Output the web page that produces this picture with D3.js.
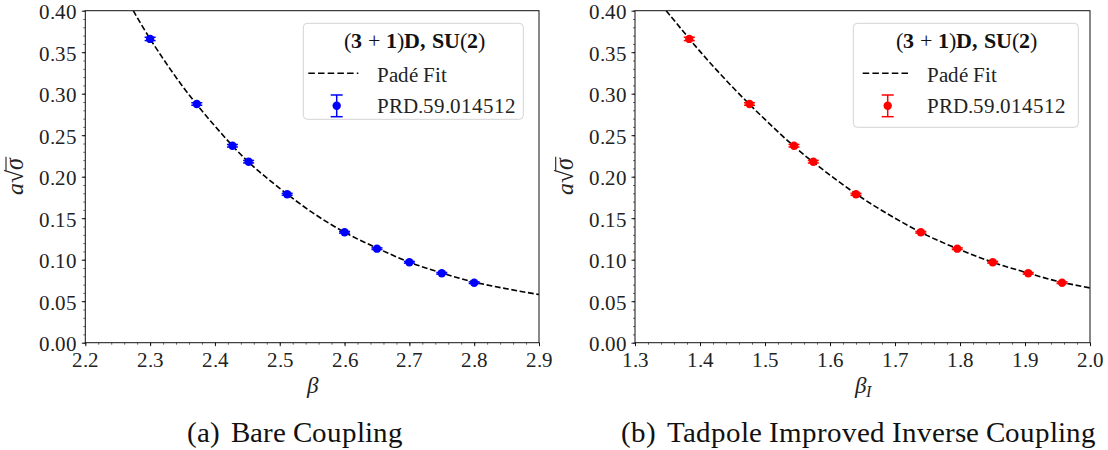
<!DOCTYPE html>
<html>
<head>
<meta charset="utf-8">
<script src="https://cdn.jsdelivr.net/npm/d3@7.9.0/dist/d3.min.js"></script>
<style>
  @font-face { font-family: "PaperSerif"; font-weight: normal; font-style: normal;
    src: local("Liberation Serif"), local("LiberationSerif"), local("LiberationSerif-Regular"); }
  @font-face { font-family: "PaperSerif"; font-weight: bold; font-style: normal;
    src: local("Liberation Serif Bold"), local("LiberationSerif-Bold"); }
  @font-face { font-family: "PaperSerif"; font-weight: normal; font-style: italic;
    src: local("Liberation Serif Italic"), local("LiberationSerif-Italic"); }
</style>
</head>
<body style="margin:0;background:#fff">
<svg id="chart" width="1108" height="450"></svg>
<script>
// values
const betaBare    = [2.3, 2.372, 2.427, 2.452, 2.5115, 2.6, 2.65, 2.7, 2.75, 2.8];
const betaTadpole = [1.3835, 1.4762, 1.5446, 1.5743, 1.640, 1.7397, 1.7958, 1.8503, 1.905, 1.957];
const sqrtSigma    = [0.366, 0.2876, 0.2373, 0.2181, 0.1788, 0.1330, 0.1133, 0.0969, 0.0836, 0.0723];
const sqrtSigmaErr = [0.002, 0.0015, 0.0015, 0.0015, 0.0012, 0.001, 0.001, 0.001, 0.001, 0.001];

// Padé fit curves
const fitBareBeta = [2.274, 2.30, 2.35, 2.40, 2.45, 2.50, 2.55, 2.60, 2.65, 2.70, 2.75, 2.80, 2.85, 2.90];
const fitBareVal  = [0.400, 0.366, 0.309, 0.261, 0.219, 0.186, 0.157, 0.133, 0.114, 0.097, 0.084, 0.073, 0.065, 0.058];
const fitTadBeta  = [1.348, 1.40, 1.45, 1.50, 1.55, 1.60, 1.65, 1.70, 1.75, 1.80, 1.85, 1.90, 1.95, 2.00];
const fitTadVal   = [0.400, 0.351, 0.308, 0.269, 0.233, 0.202, 0.174, 0.150, 0.129, 0.112, 0.097, 0.085, 0.074, 0.066];

const yTicks = [0, 0.05, 0.10, 0.15, 0.20, 0.25, 0.30, 0.35, 0.40];
const bareTicks = [2.2, 2.3, 2.4, 2.5, 2.6, 2.7, 2.8, 2.9];
const tadTicks  = [1.3, 1.4, 1.5, 1.6, 1.7, 1.8, 1.9, 2.0];

const legendTitle = ['(', '3', ' + ', '1', ')', 'D, SU', '(', '2', ')'];
const legendFit = 'Padé Fit';
const legendData = 'PRD.59.014512';

const FONT = '"PaperSerif", "DejaVu Serif", serif';
const svg = d3.select('#chart').attr('font-family', FONT).style('font-family', FONT);
const FS = 21;
const plotTop = 10.7, plotBottom = 342.7;
const y = d3.scaleLinear().domain([0, 0.4]).range([plotBottom, plotTop]);

const panels = [
  { id: 'a', left: 85.3, right: 539, domain: [2.2, 2.9], ticks: bareTicks,
    xs: betaBare, fitX: fitBareBeta, fitY: fitBareVal, color: '#0000ff',
    xlabel: 'β', sub: null, label: '(a)', caption: 'Bare Coupling', capCenter: 295,
    legend: { x: 303.3, y: 23.3, w: 220, h: 96, dash0: 5, ebar: 33.4 } },
  { id: 'b', left: 635, right: 1090, domain: [1.3, 2.0], ticks: tadTicks,
    xs: betaTadpole, fitX: fitTadBeta, fitY: fitTadVal, color: '#ff0000',
    xlabel: 'β', sub: 'I', label: '(b)', caption: 'Tadpole Improved Inverse Coupling', capCenter: 858.5,
    legend: { x: 853.3, y: 23.3, w: 225, h: 104, dash0: 9.4, ebar: 34.4 } }
];

function label(parent, size) {
  return parent.append('text').attr('font-family', FONT).style('font-family', FONT)
    .attr('font-size', size).attr('fill', '#222');
}

function styleAxis(a, width) {
  a.attr('font-family', null).attr('font-size', null);
  a.select('.domain').remove();
  a.selectAll('line').attr('stroke', '#000').attr('stroke-width', width);
  a.selectAll('text').attr('font-family', FONT).style('font-family', FONT)
    .attr('font-size', FS).attr('fill', '#222');
}

const overlines = [];

function drawPanel(p) {
  const x = d3.scaleLinear().domain(p.domain).range([p.left, p.right]);
  const g = svg.append('g');

  g.append('clipPath').attr('id', 'clip-' + p.id)
    .append('rect').attr('x', p.left).attr('y', plotTop)
    .attr('width', p.right - p.left).attr('height', plotBottom - plotTop);

  // minor ticks
  const xMinor = d3.range(0, 36).map(i => p.domain[0] + i * 0.02);
  const yMinor = d3.range(0, 41).map(i => i * 0.01);
  styleAxis(g.append('g').attr('transform', `translate(0,${plotBottom})`)
    .call(d3.axisBottom(x).tickValues(xMinor).tickSize(2).tickFormat('')), 0.6);
  styleAxis(g.append('g').attr('transform', `translate(${p.left},0)`)
    .call(d3.axisLeft(y).tickValues(yMinor).tickSize(2).tickFormat('')), 0.6);

  // major ticks
  const xa = g.append('g').attr('transform', `translate(0,${plotBottom})`)
    .call(d3.axisBottom(x).tickValues(p.ticks).tickSize(3.5).tickPadding(5.6).tickFormat(d3.format('.1f')));
  const ya = g.append('g').attr('transform', `translate(${p.left},0)`)
    .call(d3.axisLeft(y).tickValues(yTicks).tickSize(3.5).tickPadding(5).tickFormat(d3.format('.2f')));
  styleAxis(xa, 0.9);
  styleAxis(ya, 0.9);
  ya.selectAll('text').attr('dy', '0.38em');

  // fit curve
  const fit = p.fitX.map((b, i) => [b, p.fitY[i]]);
  g.append('path')
    .attr('clip-path', `url(#clip-${p.id})`)
    .attr('d', d3.line().x(d => x(d[0])).y(d => y(d[1])).curve(d3.curveCatmullRom)(fit))
    .attr('fill', 'none').attr('stroke', '#000').attr('stroke-width', 1.6)
    .attr('stroke-dasharray', '5.8,2.6');

  // data with error bars
  const pts = p.xs.map((b, i) => ({ b, v: sqrtSigma[i], e: sqrtSigmaErr[i] }));
  const pg = g.append('g').selectAll('g').data(pts).join('g');
  pg.append('line')
    .attr('x1', d => x(d.b)).attr('x2', d => x(d.b))
    .attr('y1', d => y(d.v - d.e)).attr('y2', d => y(d.v + d.e))
    .attr('stroke', p.color).attr('stroke-width', 1.5);
  [-1, 1].forEach(s => pg.append('line')
    .attr('x1', d => x(d.b) - 5.5).attr('x2', d => x(d.b) + 5.5)
    .attr('y1', d => y(d.v + s * d.e)).attr('y2', d => y(d.v + s * d.e))
    .attr('stroke', p.color).attr('stroke-width', 1.5));
  pg.append('circle')
    .attr('cx', d => x(d.b)).attr('cy', d => y(d.v)).attr('r', 4.2)
    .attr('fill', p.color);

  // spines
  g.append('rect').attr('x', p.left).attr('y', plotTop)
    .attr('width', p.right - p.left).attr('height', plotBottom - plotTop)
    .attr('fill', 'none').attr('stroke', '#111').attr('stroke-width', 1);

  // x label
  const xl = label(g, 23).attr('x', (p.left + p.right) / 2).attr('y', 393).attr('text-anchor', 'middle');
  xl.append('tspan').attr('font-style', 'italic').text(p.xlabel);
  if (p.sub) xl.append('tspan').attr('font-style', 'italic').attr('font-size', 16)
    .attr('dy', 4).text(p.sub);

  // y label a√σ, the bar over σ is placed once the glyphs are measured
  const tr = `translate(${p.left - 62},176) rotate(-90)`;
  const yl = label(g, 24).attr('transform', tr).attr('text-anchor', 'middle');
  yl.append('tspan').attr('font-style', 'italic').text('a');
  yl.append('tspan').text('√');
  yl.append('tspan').attr('font-style', 'italic').text('σ');
  const bar = g.append('line').attr('transform', tr)
    .attr('y1', -17.3).attr('y2', -17.3)
    .attr('stroke', '#222').attr('stroke-width', 1.1);
  overlines.push({ text: yl, bar });

  // legend
  const L = p.legend;
  const lg = g.append('g').attr('transform', `translate(${L.x},${L.y})`);
  lg.append('rect').attr('width', L.w).attr('height', L.h).attr('rx', 4)
    .attr('fill', '#fff').attr('fill-opacity', 0.8)
    .attr('stroke', '#d4d4d4').attr('stroke-width', 1);
  const tt = label(lg, 22).attr('x', L.w / 2 + 1).attr('y', 25)
    .attr('text-anchor', 'middle').attr('fill', '#111');
  legendTitle.forEach(s => tt.append('tspan')
    .attr('font-weight', /[()+]/.test(s) ? 'normal' : 'bold').text(s));
  lg.append('line').attr('x1', L.dash0).attr('x2', 55).attr('y1', 50).attr('y2', 50)
    .attr('stroke', '#000').attr('stroke-width', 1.6).attr('stroke-dasharray', '6.5,3.2');
  label(lg, FS).attr('x', 74).attr('y', 58.4).text(legendFit);
  const eb = lg.append('g').attr('transform', `translate(${L.ebar},82.4)`);
  eb.append('line').attr('y1', -10.7).attr('y2', 11).attr('stroke', p.color).attr('stroke-width', 1.5);
  [-10.7, 11].forEach(v => eb.append('line').attr('x1', -6).attr('x2', 6).attr('y1', v).attr('y2', v)
    .attr('stroke', p.color).attr('stroke-width', 1.5));
  eb.append('circle').attr('r', 4.2).attr('fill', p.color);
  label(lg, FS).attr('x', 74).attr('y', 90).text(legendData);
}

panels.forEach(drawPanel);

// sub-figure captions
const caps = panels.map(p => {
  const t = label(svg, 26).attr('x', p.capCenter).attr('y', 442)
    .attr('text-anchor', 'middle').attr('fill', '#111');
  t.append('tspan').text(p.label);
  t.append('tspan').attr('dx', 11).text(p.caption);
  return t;
});

// things that depend on glyph widths; run again once the faces have loaded
function fitText() {
  overlines.forEach(o => {
    const n = o.text.node();
    o.bar.attr('x1', n.getEndPositionOfChar(1).x - 1.3)
      .attr('x2', n.getEndPositionOfChar(2).x + 0.8);
  });
  caps.forEach(c => c.attr('font-size', 26));
  const capSize = 26 * 459 / caps[1].node().getComputedTextLength();
  caps.forEach(c => c.attr('font-size', capSize));
}
fitText();
if (document.fonts) document.fonts.ready.then(fitText);
</script>
</body>
</html>
